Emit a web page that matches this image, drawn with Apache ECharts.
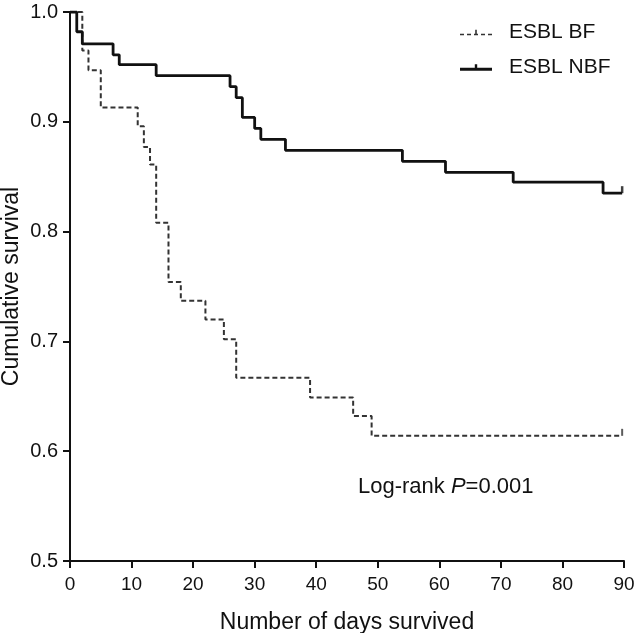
<!DOCTYPE html>
<html>
<head>
<meta charset="utf-8">
<script src="https://cdn.jsdelivr.net/npm/echarts@6/dist/echarts.min.js"></script>
<style>html,body{margin:0;padding:0;background:#fff}#c{width:634px;height:633px}</style>
</head>
<body>
<div id="c"></div>
<script>
// ---- data ----
var seriesNames = ['ESBL BF', 'ESBL NBF'];
var bfDays = [0, 2, 3, 5, 11, 12, 13, 14, 16, 18, 22, 25, 27, 39, 46, 49, 89.7];
var bfSurv = [1.0, 0.965, 0.947, 0.913, 0.896, 0.877, 0.861, 0.808, 0.754, 0.737, 0.720, 0.702, 0.667, 0.649, 0.632, 0.614, 0.614];
var nbfDays = [0, 1.1, 2, 7, 8, 14, 26, 27, 28, 30, 31, 35, 54, 61, 72, 86.6, 89.7];
var nbfSurv = [1.0, 0.982, 0.971, 0.961, 0.952, 0.942, 0.932, 0.922, 0.904, 0.894, 0.884, 0.874, 0.864, 0.854, 0.845, 0.835, 0.835];
var bfCensorDays = [89.7];
var bfCensorSurv = [0.614];
var nbfCensorDays = [89.7];
var nbfCensorSurv = [0.835];
var xTicks = [0, 10, 20, 30, 40, 50, 60, 70, 80, 90];
var yTicks = [0.5, 0.6, 0.7, 0.8, 0.9, 1.0];
var xTitle = 'Number of days survived';
var yTitle = 'Cumulative survival';

function pairs(xs, ys) { return xs.map(function (x, i) { return [x, ys[i]]; }); }

var FONT = '"Liberation Sans", Arial, Helvetica, sans-serif';
// legend icons: line with a small censor tick above its middle
var ICON_DASHED = 'path://M0,7h4v1.6h-4z M7,7h4v1.6h-4z M14,7h4v1.6h-4z M21,7h4v1.6h-4z M28,7h4v1.6h-4z M15.2,3h1.6v4h-1.6z';
var ICON_SOLID = 'path://M0,6.2h32v3h-32z M14.8,2.5h2.4v4h-2.4z';
var chart = echarts.init(document.getElementById('c'), null, { renderer: 'canvas' });

var option = {
  animation: false,
  backgroundColor: '#fff',
  textStyle: { fontFamily: FONT },
  grid: { left: 70, right: 10, top: 12, bottom: 72, containLabel: false, outerBoundsMode: 'none' },
  legend: {
    orient: 'vertical',
    left: 455,
    top: 17,
    itemWidth: 32,
    itemHeight: 14,
    itemGap: 14,
    data: [
      { name: seriesNames[0], icon: ICON_DASHED },
      { name: seriesNames[1], icon: ICON_SOLID }
    ],
    textStyle: { fontSize: 21, lineHeight: 14, color: '#111', fontFamily: FONT, padding: [0, 0, 0, 12] }
  },
  xAxis: {
    type: 'value',
    min: xTicks[0],
    max: xTicks[xTicks.length - 1],
    interval: 10,
    name: xTitle,
    nameLocation: 'middle',
    nameGap: 50,
    nameMoveOverlap: false,
    nameTextStyle: { fontSize: 23, color: '#111', fontFamily: FONT },
    axisLine: { show: true, onZero: false, lineStyle: { color: '#111', width: 2 } },
    axisTick: { show: true, length: 7, lineStyle: { color: '#111', width: 2 } },
    axisLabel: { fontSize: 19, color: '#111', margin: 14, fontFamily: FONT },
    splitLine: { show: false }
  },
  yAxis: {
    type: 'value',
    min: yTicks[0],
    max: yTicks[yTicks.length - 1],
    interval: 0.1,
    name: yTitle,
    nameLocation: 'middle',
    nameGap: 47,
    nameMoveOverlap: false,
    nameTextStyle: { fontSize: 23, color: '#111', fontFamily: FONT },
    axisLine: { show: true, onZero: false, lineStyle: { color: '#111', width: 2 } },
    axisTick: { show: true, length: 7, lineStyle: { color: '#111', width: 2 } },
    axisLabel: { fontSize: 20, color: '#111', margin: 12, fontFamily: FONT,
      formatter: function (v) { return v.toFixed(1); } },
    splitLine: { show: false }
  },
  graphic: [{
    type: 'text',
    left: 358,
    top: 476,
    style: {
      text: '{a|Log-rank }{i|P}{a|=0.001}',
      rich: {
        a: { fontSize: 22, fill: '#111', fontFamily: FONT },
        i: { fontSize: 22, fill: '#111', fontFamily: FONT, fontStyle: 'italic' }
      }
    }
  }],
  series: [
    {
      name: seriesNames[0],
      type: 'line',
      step: 'end',
      symbol: 'none',
      data: pairs(bfDays, bfSurv),
      lineStyle: { color: '#333', width: 2, type: [5, 3] },
      itemStyle: { color: '#333' },
      z: 2
    },
    {
      name: seriesNames[1],
      type: 'line',
      step: 'end',
      symbol: 'none',
      data: pairs(nbfDays, nbfSurv),
      lineStyle: { color: '#111', width: 2.8 },
      itemStyle: { color: '#111' },
      z: 3
    },
    {
      name: 'bfCensor',
      type: 'scatter',
      symbol: 'rect',
      symbolSize: [2, 7],
      symbolOffset: [0, -3.5],
      data: pairs(bfCensorDays, bfCensorSurv),
      itemStyle: { color: '#333' },
      z: 4
    },
    {
      name: 'nbfCensor',
      type: 'scatter',
      symbol: 'rect',
      symbolSize: [2.5, 7],
      symbolOffset: [0, -3.5],
      data: pairs(nbfCensorDays, nbfCensorSurv),
      itemStyle: { color: '#111' },
      z: 4
    }
  ]
};
chart.setOption(option);
</script>
</body>
</html>
